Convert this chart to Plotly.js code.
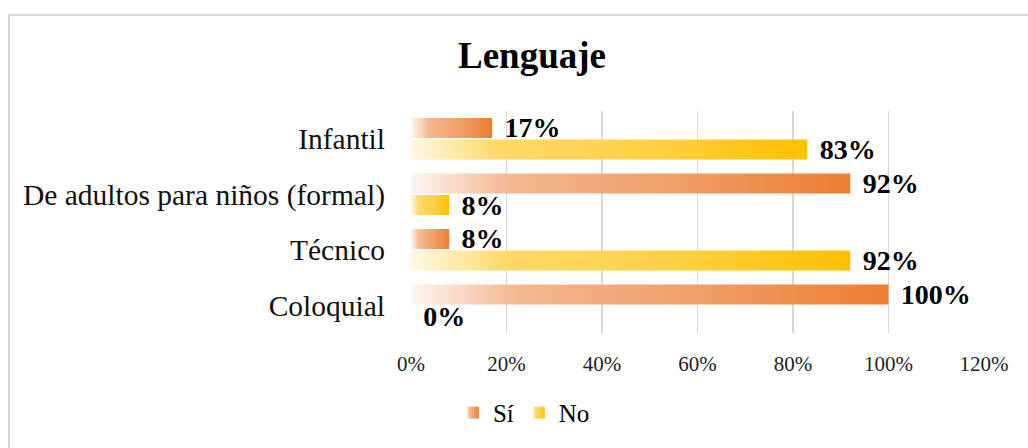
<!DOCTYPE html>
<html>
<head>
<meta charset="utf-8">
<script src="https://cdn.plot.ly/plotly-3.0.1.min.js"></script>
<style>
  html, body { margin: 0; padding: 0; background: #ffffff; }
  #wrap { position: relative; width: 1028px; height: 448px; overflow: hidden; }
  #chart { position: absolute; left: 0; top: 0; width: 1028px; height: 448px; }
  #frame { position: absolute; left: 8px; top: 14px; width: 1100px; height: 500px;
           border-top: 2px solid #d9d9d9; border-left: 2px solid #d9d9d9; pointer-events: none; }
</style>
</head>
<body>
<div id="wrap">
  <div id="chart"></div>
  <div id="frame"></div>
</div>
<script>
// Data
const categories = ["Infantil", "De adultos para niños (formal)", "Técnico", "Coloquial"];
const siValues = [17, 92, 8, 100];
const noValues = [83, 8, 92, 0];
const seriesNames = ["Sí", "No"];
const xTickVals = [0, 20, 40, 60, 80, 100, 120];
const xTickText = ["0%", "20%", "40%", "60%", "80%", "100%", "120%"];

const FONT = "Liberation Serif";
const ORANGE = "#ED7D31";
const YELLOW = "#FFC000";

const labelFont = { family: FONT, size: 28, color: "#000000" };
const pct = arr => arr.map(v => "<b>\u00A0\u200A" + v + "%</b>");

const traces = [
  {
    type: "bar", orientation: "h", name: seriesNames[0],
    y: categories, x: siValues,
    marker: { color: ORANGE },
    text: pct(siValues), texttemplate: "%{text}", textposition: "outside",
    textangle: 0, constraintext: "none", cliponaxis: false,
    textfont: labelFont, outsidetextfont: labelFont, hoverinfo: "x+y"
  },
  {
    type: "bar", orientation: "h", name: seriesNames[1],
    y: categories, x: noValues,
    marker: { color: YELLOW },
    text: pct(noValues), texttemplate: "%{text}", textposition: "outside",
    textangle: 0, constraintext: "none", cliponaxis: false,
    textfont: labelFont, outsidetextfont: labelFont, hoverinfo: "x+y"
  }
];

const layout = {
  width: 1028, height: 448,
  paper_bgcolor: "rgba(0,0,0,0)", plot_bgcolor: "rgba(0,0,0,0)",
  margin: { l: 411, r: 44, t: 111, b: 112, pad: 0 },
  font: { family: FONT, color: "#000000" },
  title: {
    text: "<b>Lenguaje</b>",
    font: { family: FONT, size: 37, color: "#000000" },
    x: 0.5175, xanchor: "center", xref: "container",
    y: 0.877, yanchor: "middle", yref: "container"
  },
  barmode: "group",
  bargap: 0.22,
  bargroupgap: 0.08,
  showlegend: true,
  legend: {
    orientation: "h", x: 0.197, xanchor: "center", y: -0.36, yanchor: "middle",
    font: { family: FONT, size: 25, color: "#000000" },
    itemwidth: 30, traceorder: "normal", bgcolor: "rgba(0,0,0,0)"
  },
  xaxis: {
    range: [0, 120], tickvals: xTickVals, ticktext: xTickText,
    showgrid: true, gridcolor: "#d9d9d9", gridwidth: 1.5,
    zeroline: false, showline: false, ticks: "",
    tickfont: { family: FONT, size: 21, color: "#222222" },
    ticklabelstandoff: 16, fixedrange: true
  },
  yaxis: {
    type: "category", autorange: "reversed",
    showgrid: false, zeroline: false, showline: false, ticks: "",
    tickfont: { family: FONT, size: 29.5, color: "#111111" },
    ticklabelstandoff: 25, fixedrange: true
  }
};

function applyGradients(gd) {
  const svgNS = "http://www.w3.org/2000/svg";
  const svg = gd.querySelector("svg.main-svg");
  let defs = svg.querySelector("defs");
  if (!defs) { defs = document.createElementNS(svgNS, "defs"); svg.insertBefore(defs, svg.firstChild); }
  const grads = {
    gradSi: [["0", "#fdf6f1"], ["0.22", "#f4b891"], ["0.6", "#f09f68"], ["1", ORANGE]],
    gradNo: [["0", "#fff9e6"], ["0.22", "#fed967"], ["0.6", "#fed044"], ["1", YELLOW]]
  };
  Object.keys(grads).forEach(id => {
    const lg = document.createElementNS(svgNS, "linearGradient");
    lg.setAttribute("id", id);
    lg.setAttribute("x1", "0"); lg.setAttribute("y1", "0");
    lg.setAttribute("x2", "1"); lg.setAttribute("y2", "0");
    grads[id].forEach(s => {
      const st = document.createElementNS(svgNS, "stop");
      st.setAttribute("offset", s[0]);
      st.setAttribute("stop-color", s[1]);
      lg.appendChild(st);
    });
    defs.appendChild(lg);
  });
  const ids = ["gradSi", "gradNo"];
  gd.querySelectorAll(".barlayer .trace.bars").forEach((t, i) => {
    t.querySelectorAll(".point path").forEach(p => { p.style.fill = "url(#" + ids[i] + ")"; });
  });
  gd.querySelectorAll(".legend .traces").forEach((t, i) => {
    t.querySelectorAll(".legendpoints path").forEach(p => { p.style.fill = "url(#" + ids[i] + ")"; });
  });
}

const gd = document.getElementById("chart");
Plotly.newPlot(gd, traces, layout, { displayModeBar: false, staticPlot: true }).then(() => applyGradients(gd));
</script>
</body>
</html>
